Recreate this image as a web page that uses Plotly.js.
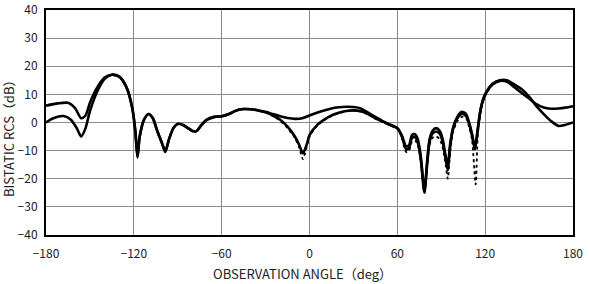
<!DOCTYPE html>
<html>
<head>
<meta charset="utf-8">
<script src="https://cdn.plot.ly/plotly-3.0.1.min.js"></script>
<style>
  html, body { margin: 0; padding: 0; background: #fff; }
  #chart { width: 590px; height: 284px; }
</style>
</head>
<body>
<div id="chart"></div>
<script>
// Bistatic RCS patterns versus observation angle (deg, dB)

// Pattern 1: shallow dip near broadside, higher level toward ±180°
const angleA = [-180,-172,-165,-160,-156,-153,-150,-145,-140,-135,-130,-125,-121,-119,-117.5,-116,-113,-110,-107,-104,-101,-98.5,-96,-93,-90,-86,-83,-80,-77,-74,-70,-65,-60,-55,-50,-45,-40,-35,-30,-25,-20,-15,-10,-5,0,5,10,15,20,25,30,35,40,45,50,55,60,63,66,68,70,72,74,76,78.5,80.5,82,84,86.5,89,91,93,94.5,96,98,101,104,107,109,111,113,115,117,120,125,130,135,140,145,150,155,160,165,170,175,180];
const rcsA   = [6,6.8,7,5,1.5,2.5,7,12.5,16,17,16.3,12.5,5,-3,-12,-5,1,3,1.5,-3,-7,-10,-6,-2,-0.5,-1,-2,-3,-3,-1,1,2,2.2,3,4.3,4.8,4.7,4.3,3.8,3,2.2,1.6,1.3,1.5,2.5,3.5,4.3,5,5.4,5.6,5.5,5,3.5,2,0.5,-0.8,-2,-4.5,-8.5,-8,-4.5,-4.2,-6,-12,-24,-13,-6,-3,-2,-3,-6,-12,-15,-8,-2,2,3.8,3,0,-4,-9,-2,5,10,13.5,14.8,14.5,12.5,10.5,8.5,6.5,5.3,4.9,5,5.3,5.8];

// Pattern 2: deep dip near broadside, lower level toward ±180°
const angleB = [-180,-175,-168,-163,-159,-156,-153,-150,-145,-140,-135,-130,-125,-121,-119,-117.5,-116,-113,-110,-107,-104,-101,-98.5,-96,-93,-90,-86,-83,-80,-77,-74,-70,-65,-60,-55,-50,-45,-40,-35,-30,-25,-20,-15,-10,-7,-4.5,-2,0,5,10,15,20,25,30,35,40,45,50,55,60,63,66,68,70,72,74,76,78.5,80.5,82,84,86.5,89,91,93,94.5,96,98,101,104,107,109,111,113,115,117,120,125,130,135,140,145,150,155,160,165,170,175,180];
const rcsB   = [0,1.5,2.3,1,-2,-5,-2,4,11,15.5,17,16.3,12.5,5,-3,-12.5,-5,1,3,1.5,-3,-7,-10.5,-6,-2,-0.5,-1,-2,-3,-3,-1,1,2,2.2,3,4.3,4.8,4.7,4.3,3.6,2.5,1,-1.5,-5,-8,-11,-8,-4.5,-1,1,2.5,3.5,4.1,4.3,4,3,1.5,0.3,-0.8,-2,-4.8,-9.5,-9,-5.5,-5.2,-7,-13,-25,-14,-7,-4,-3.2,-4,-7,-13,-17,-9,-2.5,1.5,3,2.3,-0.5,-4.5,-9.5,-2.5,5,10,13.8,15,15,13.5,11.8,9.2,5.8,3,0.5,-1.2,-0.8,0];

// Pattern 3: measured trace, deepest nulls
const angleC = [-30,-25,-20,-15,-10,-7,-4.5,-2,0,5,10,15,20,25,30,35,40,45,50,55,60,63,66,68,70,72,74,76,78.5,80.5,82,84,86.5,89,91,93,94.5,96,98,101,104,107,109,111,113.5,115,117,120,125];
const rcsC   = [3.6,2.3,0.6,-2,-5.5,-9,-13,-9,-5,-1.3,0.8,2.3,3.3,4,4.2,3.9,2.9,1.4,0.2,-1,-2.3,-5.3,-10.5,-10,-6.8,-6.4,-8,-14,-25,-15,-8,-5.5,-5,-6,-9,-15,-20,-11,-3.5,0.5,2,1.5,-1.5,-6,-22,-4,4,9.5,13.5];

const xTicks = [-180,-120,-60,0,60,120,180];
const yTicks = [-40,-30,-20,-10,0,10,20,30,40];

const font = '"Noto Sans CJK JP", "Liberation Sans", sans-serif';

const traces = [
  { x: angleA, y: rcsA, mode: 'lines', line: { color: '#000', width: 2.6, shape: 'spline', smoothing: 0.7 } },
  { x: angleB, y: rcsB, mode: 'lines', line: { color: '#000', width: 2.6, shape: 'spline', smoothing: 0.7 } },
  { x: angleC, y: rcsC, mode: 'lines', line: { color: '#000', width: 1.8, dash: 'dot', shape: 'spline', smoothing: 0.7 } }
];

const layout = {
  width: 590, height: 284,
  margin: { l: 46, r: 17, t: 10, b: 49 },
  paper_bgcolor: '#fff', plot_bgcolor: '#fff',
  showlegend: false,
  font: { family: font, size: 12, color: '#222' },
  xaxis: {
    range: [-180, 180], tickvals: xTicks, ticks: '',
    ticklabelstandoff: 7, ticklabeloverflow: 'allow',
    showgrid: true, gridcolor: '#8c8c8c', gridwidth: 1, zeroline: false,
    showline: true, linecolor: '#000', linewidth: 2, mirror: true,
    tickfont: { family: font, size: 12, color: '#222' }
  },
  yaxis: {
    range: [-40, 40], tickvals: yTicks, ticks: '',
    ticklabelstandoff: 4, ticklabeloverflow: 'allow',
    showgrid: true, gridcolor: '#8c8c8c', gridwidth: 1, zeroline: false,
    showline: true, linecolor: '#000', linewidth: 2, mirror: true,
    tickfont: { family: font, size: 12, color: '#222' }
  },
  annotations: [
    {
      text: 'OBSERVATION ANGLE（deg）',
      xref: 'paper', yref: 'paper', x: 0.486, y: 0, yshift: -38,
      xanchor: 'center', yanchor: 'middle', showarrow: false,
      font: { family: font, size: 13, color: '#222' }
    },
    {
      text: 'BISTATIC RCS（dB）', textangle: -90,
      xref: 'paper', yref: 'paper', x: 0, y: 0.44, xshift: -38,
      xanchor: 'center', yanchor: 'middle', showarrow: false,
      font: { family: font, size: 13, color: '#222' }
    }
  ]
};

Plotly.newPlot('chart', traces, layout, { staticPlot: true, displayModeBar: false });
</script>
</body>
</html>
